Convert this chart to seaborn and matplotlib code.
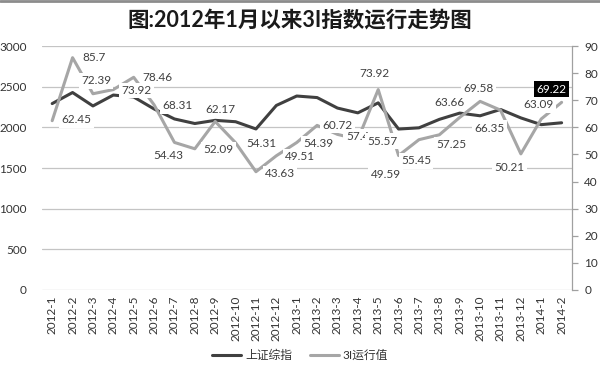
import pandas as pd
import seaborn as sns
import matplotlib.pyplot as plt
from matplotlib.lines import Line2D

# data
months = ['2012-1', '2012-2', '2012-3', '2012-4', '2012-5', '2012-6', '2012-7',
          '2012-8', '2012-9', '2012-10', '2012-11', '2012-12', '2013-1', '2013-2',
          '2013-3', '2013-4', '2013-5', '2013-6', '2013-7', '2013-8', '2013-9',
          '2013-10', '2013-11', '2013-12', '2014-1', '2014-2']
sh_index = [2292, 2428, 2263, 2397, 2373, 2226, 2103, 2047, 2086, 2069, 1980, 2269, 2385,
            2366, 2237, 2178, 2301, 1979, 1994, 2098, 2175, 2142, 2220, 2116, 2033, 2056]
three_i = [62.45, 85.7, 72.39, 73.92, 78.46, 68.31, 54.43, 52.09, 62.17, 54.31, 43.63, 49.51,
           54.39, 60.72, 57.4, 55.57, 73.92, 49.59, 55.45, 57.25, 63.66, 69.58, 66.35, 50.21,
           63.09, 69.22]

# where each data label sits relative to its point (pixels, y down)
label_offsets = [(24, -1), (21, 0), (3, -13), (23, 1), (24, 0), (23, 1), (-6, 13), (24, 1),
                 (5, -12), (26, 1), (24, 2), (24, 1), (22, 1), (20, 0), (20, 2), (25, 2),
                 (-4, -16), (-13, 19), (-3, 21), (12, 10), (-10, -15), (-2, -13), (-11, 18),
                 (-11, 14), (-3, -14), (-10, -13)]

sns.set_theme(style='white')
plt.rcParams['font.family'] = ['Lato', 'Noto Sans CJK SC', 'DejaVu Sans']

df = pd.DataFrame({'month': months, 'sh': sh_index, 'ti': three_i})

dark = '#404040'
light = '#a6a6a6'

fig = plt.figure(figsize=(6, 3.74), dpi=100)
ax = fig.add_axes([0.07, 0.2246, 0.883, 0.6524])
ax2 = ax.twinx()

sns.lineplot(data=df, x='month', y='sh', ax=ax, color=dark, linewidth=2.2, sort=False)
sns.lineplot(data=df, x='month', y='ti', ax=ax2, color=light, linewidth=2.2, sort=False)

ax.set_xlim(-0.5, len(months) - 0.5)
ax.set_ylim(0, 3000)
ax.set_yticks(range(0, 3001, 500))
ax.yaxis.grid(True, color='#c4c4c4', linewidth=0.9)
ax.set_axisbelow(True)
ax.set_xlabel('')
ax.set_ylabel('')
ax.tick_params(axis='x', rotation=90, labelsize=8.5, colors='#333333', length=0, pad=4)
ax.tick_params(axis='y', labelsize=8.5, colors='#333333', length=0, pad=11)

ax2.set_ylim(0, 90)
ax2.set_yticks(range(0, 91, 10))
ax2.set_ylabel('')
ax2.tick_params(axis='y', labelsize=8.5, labelcolor='#333333', color='#a0a0a0',
                direction='out', length=4, width=0.9, pad=5)

for a in (ax, ax2):
    for side in ('top', 'left', 'bottom'):
        a.spines[side].set_visible(False)
ax.spines['right'].set_visible(False)
ax2.spines['right'].set_color('#a0a0a0')
ax2.spines['right'].set_linewidth(0.9)

# data labels for the 3I series
for i, (m, v) in enumerate(zip(months, three_i)):
    dx, dy = label_offsets[i]
    last = i == len(months) - 1
    ax2.annotate(f'{v:g}', xy=(m, v), xytext=(dx, -dy), textcoords='offset pixels',
                 ha='center', va='center', fontsize=8.5,
                 color='white' if last else dark,
                 bbox=dict(boxstyle='square,pad=0.2', fc='black' if last else 'white', ec='none'),
                 zorder=5)

fig.text(0.5, 1 - 20 / 374, '图:2012年1月以来3I指数运行走势图', ha='center', va='center',
         fontsize=15.5, fontweight='bold', color='#1a1a1a')

handles = [Line2D([], [], color=dark, linewidth=2.2), Line2D([], [], color=light, linewidth=2.2)]
fig.legend(handles, ['上证综指', '3I运行值'], loc='center', bbox_to_anchor=(0.5, 1 - 355 / 374),
           ncol=2, frameon=False, fontsize=8.5, handlelength=2.5, columnspacing=1.5,
           handletextpad=0.3, labelcolor='#333333')

fig.add_artist(Line2D([0, 1], [0.997, 0.997], color='#8c8c8c', linewidth=2,
                      transform=fig.transFigure))

fig.savefig('out.png', dpi=100)
